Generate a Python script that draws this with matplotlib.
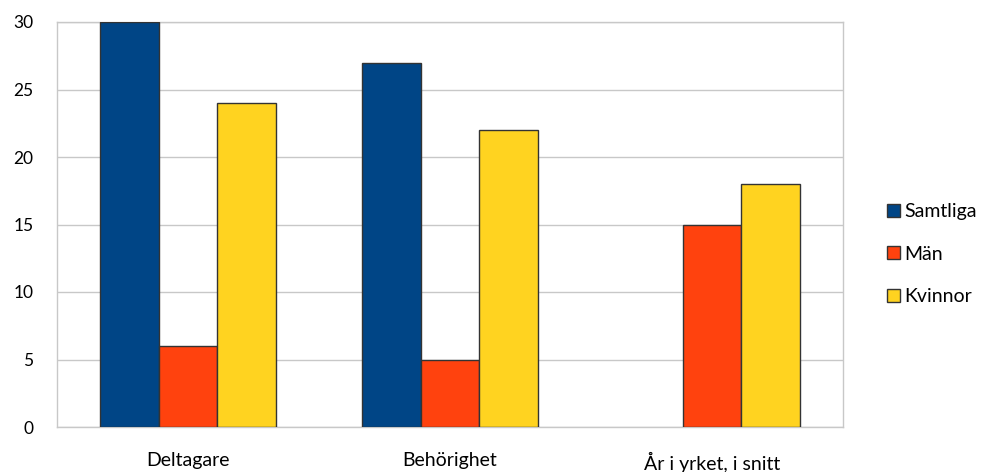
import matplotlib
matplotlib.use("Agg")
import matplotlib.pyplot as plt
import numpy as np

categories = ["Deltagare", "Behörighet", "År i yrket, i snitt"]
series_names = ["Samtliga", "Män", "Kvinnor"]
samtliga = [30, 27, np.nan]
man = [6, 5, 15]
kvinnor = [24, 22, 18]
colors = ["#004586", "#FF420E", "#FFD320"]
yticks = [0, 5, 10, 15, 20, 25, 30]

plt.rcParams['font.family'] = ['Lato', 'DejaVu Sans']

fig = plt.figure(figsize=(9.84, 4.72), dpi=100)
ax = fig.add_axes([57/984, 1 - 427/472, (843-57)/984, (427-22)/472])

x = np.arange(len(categories))
w = 0.223
for i, (vals, name) in enumerate(zip([samtliga, man, kvinnor], series_names)):
    ax.bar(x + (i - 1) * w, vals, width=w, color=colors[i], edgecolor="#333333",
           linewidth=1.0, label=name, zorder=3)

ax.set_xlim(-0.5, len(categories) - 0.5)
ax.set_ylim(0, 30)
ax.set_yticks(yticks)
ax.set_yticklabels([str(t) for t in yticks])
ax.set_xticks(x)
ax.set_xticklabels(categories)
ax.yaxis.grid(True, color="#c8c8c8", linewidth=1.0, zorder=0)
ax.set_axisbelow(True)
for s in ax.spines.values():
    s.set_color("#c8c8c8")
    s.set_linewidth(1.0)
ax.tick_params(axis="y", length=0, pad=17, labelsize=12.5, colors="#000000")
ax.tick_params(axis="x", length=0, pad=18, labelsize=14, colors="#000000")

leg = fig.legend(loc="upper left", bbox_to_anchor=(887/984, 1 - 203/472), frameon=False,
                 fontsize=14, handlelength=0.65, handleheight=0.65, handletextpad=0.25,
                 labelspacing=1.32, borderaxespad=0, borderpad=0)

fig.savefig("out.png", dpi=100, facecolor="white")
